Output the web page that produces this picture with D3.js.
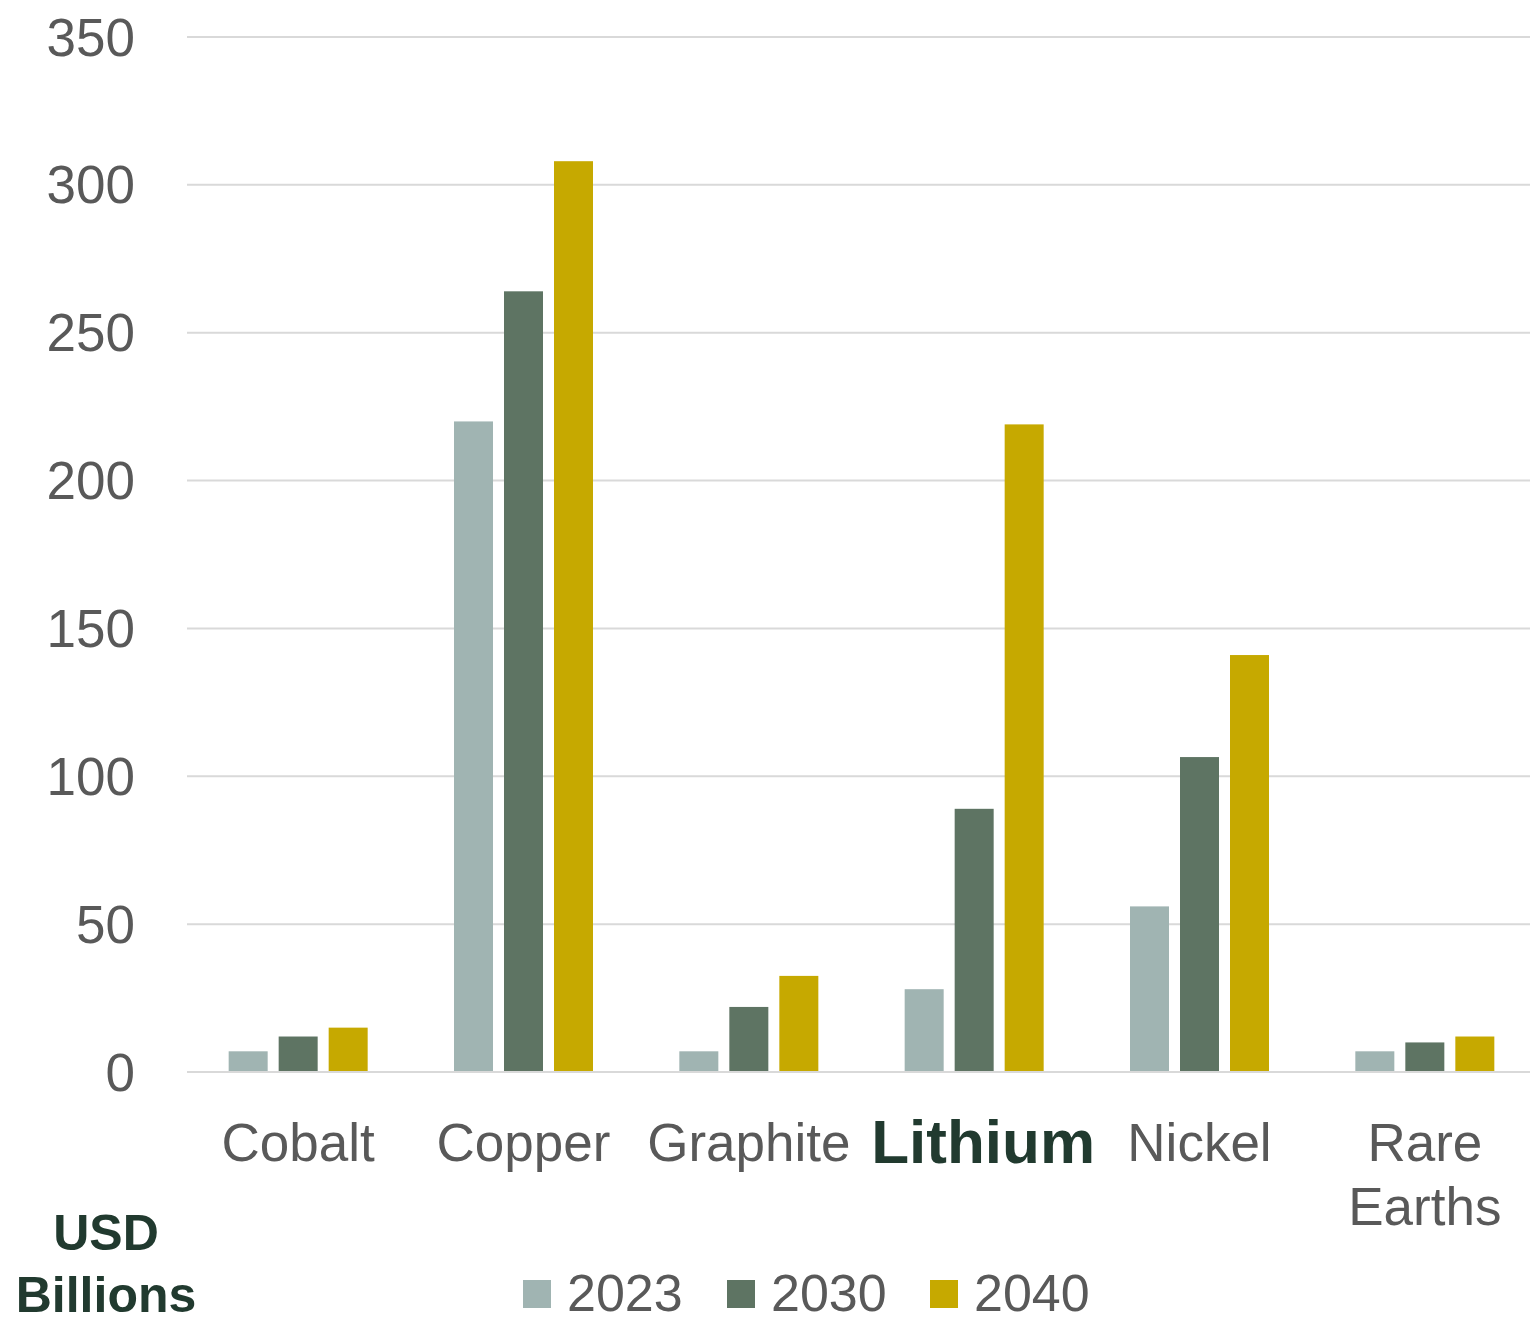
<!DOCTYPE html>
<html>

<head>
  <meta charset="utf-8">
  <title>Critical minerals market size</title>
  <script type="text/javascript" src="https://cdn.jsdelivr.net/npm/d3@7"></script>
  <style type="text/css">
    body {
      margin: 0;
      background: #ffffff;
    }

    text {
      font-family: "Liberation Sans", Arial, sans-serif;
    }
  </style>
</head>

<body>
  <div id="chart"></div>

  <script type="text/javascript">
    // Data
    const minerals = ["Cobalt", "Copper", "Graphite", "Lithium", "Nickel", "Rare Earths"];
    const years = ["2023", "2030", "2040"];
    const v2023 = [7, 220, 7, 28, 56, 7];
    const v2030 = [12, 264, 22, 89, 106.5, 10];
    const v2040 = [15, 308, 32.5, 219, 141, 12];
    const yTicks = [0, 50, 100, 150, 200, 250, 300, 350];
    const highlight = "Lithium";

    const seriesValues = [v2023, v2030, v2040];
    const colors = ["#a0b4b2", "#5e7463", "#c6a900"];

    const w = 1530;
    const h = 1318;

    const svg = d3.select("#chart")
      .append("svg")
      .attr("width", w)
      .attr("height", h);

    // Scales
    const x0 = d3.scaleBand()
      .domain(minerals)
      .range([185.5, 1537.5]);

    const x1 = d3.scaleBand()
      .domain(years)
      .range([-69.5, 69.5])
      .paddingInner(0.22);

    const y = d3.scaleLinear()
      .domain([0, 350])
      .range([1072, 37]);

    const color = d3.scaleOrdinal().domain(years).range(colors);

    // Gridlines
    svg.append("g")
      .selectAll("line")
      .data(yTicks)
      .enter()
      .append("line")
      .attr("x1", 187)
      .attr("x2", w)
      .attr("y1", d => y(d))
      .attr("y2", d => y(d))
      .attr("stroke", "#d9d9d9")
      .attr("stroke-width", 2);

    // Y tick labels
    svg.append("g")
      .selectAll("text")
      .data(yTicks)
      .enter()
      .append("text")
      .attr("x", 135)
      .attr("y", d => y(d))
      .attr("dy", "0.35em")
      .attr("text-anchor", "end")
      .attr("font-size", 53)
      .attr("fill", "#595959")
      .text(d => d);

    // Bars
    const rows = minerals.map((m, i) => ({
      mineral: m,
      values: years.map((yr, j) => ({ year: yr, value: seriesValues[j][i] }))
    }));

    svg.append("g")
      .selectAll("g")
      .data(rows)
      .enter()
      .append("g")
      .attr("transform", d => `translate(${x0(d.mineral) + x0.bandwidth() / 2},0)`)
      .selectAll("rect")
      .data(d => d.values)
      .enter()
      .append("rect")
      .attr("x", d => x1(d.year))
      .attr("width", x1.bandwidth())
      .attr("y", d => y(d.value))
      .attr("height", d => y(0) - y(d.value))
      .attr("fill", d => color(d.year));

    // Baseline
    svg.append("line")
      .attr("x1", 187)
      .attr("x2", w)
      .attr("y1", y(0))
      .attr("y2", y(0))
      .attr("stroke", "#d9d9d9")
      .attr("stroke-width", 2);

    // Category labels
    const cat = svg.append("g")
      .selectAll("text")
      .data(minerals)
      .enter()
      .append("text")
      .attr("y", d => d === highlight ? 1163 : 1161)
      .attr("text-anchor", "middle")
      .attr("font-size", d => d === highlight ? 62 : 53)
      .attr("font-weight", d => d === highlight ? "bold" : "normal")
      .attr("fill", d => d === highlight ? "#213a2f" : "#595959");

    cat.each(function(d) {
      const words = d.split(" ");
      const t = d3.select(this);
      const cx = x0(d) + x0.bandwidth() / 2 + (d === highlight ? 9 : 0);
      words.forEach((wd, i) => {
        t.append("tspan")
          .attr("x", cx)
          .attr("dy", i === 0 ? 0 : 64)
          .text(wd);
      });
    });

    // Unit label
    svg.append("text")
      .attr("x", 106)
      .attr("y", 1250)
      .attr("text-anchor", "middle")
      .attr("font-size", 50)
      .attr("font-weight", "bold")
      .attr("fill", "#213a2f")
      .selectAll("tspan")
      .data(["USD", "Billions"])
      .enter()
      .append("tspan")
      .attr("x", 106)
      .attr("dy", (d, i) => i === 0 ? 0 : 62)
      .text(d => d);

    // Legend
    const legendX = [523, 727, 930];
    const legend = svg.append("g")
      .selectAll("g")
      .data(years)
      .enter()
      .append("g")
      .attr("transform", (d, i) => `translate(${legendX[i]},1280)`);

    legend.append("rect")
      .attr("width", 28)
      .attr("height", 28)
      .attr("fill", d => color(d));

    legend.append("text")
      .attr("x", 44)
      .attr("y", 31)
      .attr("font-size", 52)
      .attr("fill", "#595959")
      .text(d => d);
  </script>
</body>

</html>
